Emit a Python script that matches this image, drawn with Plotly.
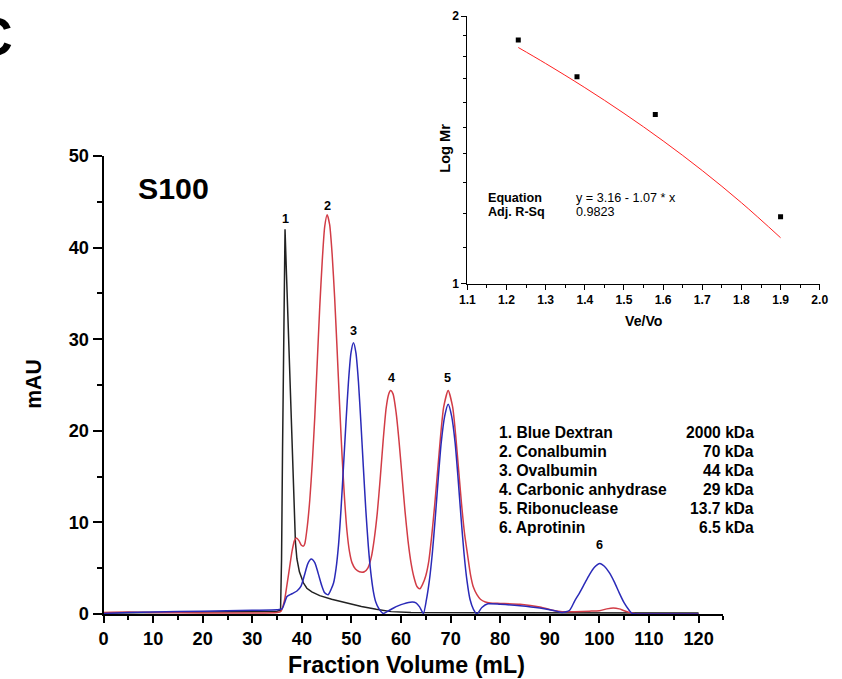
import plotly.graph_objects as go

# ---------------- data: elution profiles (Fraction Volume mL, mAU) ----------------
black_x = [0, 10, 20, 30, 35, 35.7, 35.9, 36.1, 36.3, 36.5, 36.6, 36.9, 37.3, 37.7, 38.1, 38.4,
           38.7, 39.0, 39.5, 40.3, 41.0, 42.0, 43.6, 46.0, 49.6, 52.0, 55.0, 58.0, 62.0, 70, 80,
           90, 100, 110, 120]
black_y = [0.1, 0.15, 0.2, 0.25, 0.3, 0.4, 6, 18, 30, 40, 42, 37, 30.5, 23.5, 16, 11,
           7.8, 6.0, 4.6, 3.4, 2.8, 2.4, 2.0, 1.6, 1.1, 0.8, 0.5, 0.25, 0.15, 0.15, 0.1,
           0.1, 0.1, 0.1, 0.1]

red_x = [0, 5, 10, 20, 30, 35, 35.8, 36.5, 37.0, 37.5, 38.0, 38.5, 38.9, 39.4, 39.9, 40.3,
         40.6, 41.1, 41.6, 42.1, 42.6, 43.1, 43.6, 44.1, 44.6, 45.1, 45.6, 46.1, 46.6, 47.1,
         47.6, 48.1, 48.6, 49.1, 49.6, 50.1, 50.8, 51.6, 52.6, 53.3, 54.0, 54.6, 55.2, 55.8,
         56.4, 57.0, 57.5, 57.9, 58.4, 59.0, 59.6, 60.2, 60.8, 61.4, 62.0, 62.6, 63.2, 63.8,
         64.4, 65.0, 65.6, 66.2, 66.8, 67.4, 68.0, 68.6, 69.5, 70.4, 71.0, 71.6, 72.2, 72.8,
         73.4, 74.0, 74.6, 75.3, 76.0, 77.0, 78.0, 80.0, 84.0, 88.0, 91.0, 92.5, 95.0, 98.0,
         100.0, 101.5, 102.8, 104.0, 105.0, 106.5, 107.5, 110, 120]
red_y = [0.15, 0.2, 0.15, 0.1, 0.1, 0.15, 0.3, 1.5, 3.2, 5.0, 6.8, 8.0, 8.3, 8.0, 7.5, 7.4,
         7.7, 9.6, 12.5, 16.5, 21.5, 27.5, 33.5, 38.5, 42.3, 43.6, 42.5, 39.3, 34.6, 28.9,
         22.9, 17.3, 12.6, 9.0, 6.8, 5.6, 4.9, 4.6, 4.6, 5.0, 6.2, 8.2, 11.0, 14.8,
         19.0, 22.5, 24.0, 24.4, 24.0, 22.0, 18.8, 15.0, 11.2, 8.0, 5.6, 4.0, 3.0, 2.75,
         3.3, 4.2, 5.8, 8.6, 12.0, 15.8, 19.6, 22.6, 24.4, 22.6, 19.6, 15.8, 12.0, 8.8,
         6.5, 4.3, 2.9, 2.1, 1.6, 1.3, 1.2, 1.15, 1.05, 0.75, 0.35, 0.25, 0.25, 0.3,
         0.35, 0.55, 0.65, 0.55, 0.35, 0.1, 0.0, 0.0, 0.0]

blue_x = [0, 5, 10, 20, 30, 35, 36.0, 36.5, 37.0, 38.0, 39.0, 39.8, 40.5, 41.2, 41.9, 42.6,
          43.3, 44.0, 44.6, 45.3, 45.9, 46.4, 46.9, 47.4, 47.9, 48.4, 48.9, 49.4, 49.9, 50.4,
          50.9, 51.4, 51.9, 52.4, 52.9, 53.4, 53.9, 54.4, 54.9, 55.5, 56.4, 57.5, 58.5, 59.5,
          60.5, 61.5, 62.3, 63.0, 63.7, 64.5, 65.1, 65.7, 66.3, 66.9, 67.5, 68.1, 68.8, 69.5,
          70.2, 70.9, 71.5, 72.1, 72.7, 73.3, 73.9, 74.6, 75.3, 76.3, 77.5, 80, 84, 88, 91,
          92.5, 94, 95, 96, 97, 98, 99, 100.1, 101, 102, 103, 104, 105, 106, 106.6, 108, 120]
blue_y = [0.05, 0.15, 0.2, 0.3, 0.4, 0.45, 0.55, 1.2, 1.9, 2.2, 2.5, 3.0, 4.2, 5.5, 6.0, 5.6,
          4.4, 3.1, 2.3, 2.1, 2.7, 3.4, 5.0, 7.6, 11.5, 16.2, 21.0, 25.4, 28.5, 29.6,
          28.5, 25.4, 20.9, 16.0, 11.3, 7.4, 4.5, 2.5, 1.3, 0.6, 0.05, 0.35, 0.65, 0.9,
          1.1, 1.25, 1.3, 1.2, 0.8, 0.05, 1.5, 3.6, 6.6, 10.5, 14.8, 18.7, 21.6, 22.9,
          21.6, 18.7, 14.8, 10.5, 6.6, 3.6, 1.6, 0.5, 0.0, 0.7, 1.1, 1.05, 0.9, 0.65, 0.35,
          0.15, 0.4, 1.4, 2.3, 3.3, 4.3, 5.1, 5.5, 5.2, 4.5, 3.5, 2.3, 1.2, 0.4, 0.05, 0.0, 0.0]

# ---------------- data: calibration inset ----------------
cal_vevo = [1.23, 1.38, 1.58, 1.90]
cal_logmr = [1.88, 1.71, 1.55, 1.19]
fit_vevo = [1.23, 1.30, 1.40, 1.50, 1.60, 1.70, 1.80, 1.90]
fit_logmr = [1.844, 1.769, 1.662, 1.555, 1.448, 1.341, 1.234, 1.127]

peak_labels = ["1", "2", "3", "4", "5", "6"]
peak_label_x = [36.6, 45.1, 50.4, 58.0, 69.4, 100.1]
peak_label_y = [43.1, 44.5, 30.9, 25.8, 25.8, 7.5]

legend_names = ["1. Blue Dextran", "2. Conalbumin", "3. Ovalbumin",
                "4. Carbonic anhydrase", "5. Ribonuclease", "6. Aprotinin"]
legend_mw = ["2000 kDa", "70 kDa", "44 kDa", "29 kDa", "13.7 kDa", "6.5 kDa"]

main_xticks = [0, 10, 20, 30, 40, 50, 60, 70, 80, 90, 100, 110, 120]
inset_xticks = [1.1, 1.2, 1.3, 1.4, 1.5, 1.6, 1.7, 1.8, 1.9, 2.0]
inset_xticktext = ["1.1", "1.2", "1.3", "1.4", "1.5", "1.6", "1.7", "1.8", "1.9", "2.0"]

# ---------------- layout geometry ----------------
W, H = 842, 679
ML, MR, MT, MB = 101, 0, 0, 60
PW, PH = W - ML - MR, H - MT - MB
# correction for the capture's observed scale/offset
SX, OX = 0.9945, 0.0
SY, OY = 0.983, 9.6
FS = 1.0 / 0.99


def clamp(v):
    return max(0.0, min(1.0, v))


def px(xp):
    return ((xp - OX) / SX - ML) / PW


def py(yp):
    return (H - MB - (yp - OY) / SY) / PH


def f(size):
    return size * FS


FONT = "Liberation Sans, Arial, sans-serif"
RED = "#d23c46"
BLUE = "#2a2ab8"
BLACK = "#222222"

fig = go.Figure()
fig.add_trace(go.Scatter(x=black_x, y=black_y, mode="lines", line=dict(color=BLACK, width=1.5),
                         xaxis="x", yaxis="y", showlegend=False))
fig.add_trace(go.Scatter(x=red_x, y=red_y, mode="lines", line=dict(color=RED, width=1.5, shape="spline", smoothing=0.6),
                         xaxis="x", yaxis="y", showlegend=False))
fig.add_trace(go.Scatter(x=blue_x, y=blue_y, mode="lines", line=dict(color=BLUE, width=1.5, shape="spline", smoothing=0.6),
                         xaxis="x", yaxis="y", showlegend=False))

fig.add_trace(go.Scatter(x=fit_vevo, y=fit_logmr, mode="lines", line=dict(color="#ff2020", width=1, shape="spline"),
                         xaxis="x2", yaxis="y2", showlegend=False))
fig.add_trace(go.Scatter(x=cal_vevo, y=cal_logmr, mode="markers",
                         marker=dict(symbol="square", size=5, color="black"),
                         xaxis="x2", yaxis="y2", showlegend=False))

tickfont_main = dict(family=FONT, size=f(18), color="black", weight="bold")
tickfont_inset = dict(family=FONT, size=f(12), color="black", weight="bold")

fig.update_layout(
    width=W, height=H, autosize=False,
    margin=dict(l=ML, r=MR, t=MT, b=MB),
    paper_bgcolor="white", plot_bgcolor="white",
    font=dict(family=FONT, color="black"),
    xaxis=dict(domain=[clamp(px(103)), clamp(px(727))], range=[0, 125], showgrid=False, zeroline=False,
               showline=True, linecolor="black", linewidth=2,
               ticks="outside", ticklen=7, tickwidth=2, tickcolor="black",
               tickvals=main_xticks, tickfont=tickfont_main,
               minor=dict(tickvals=[5, 15, 25, 35, 45, 55, 65, 75, 85, 95, 105, 115, 125],
                          ticks="outside", ticklen=4, tickwidth=1.5, tickcolor="black"),
               anchor="y"),
    yaxis=dict(domain=[clamp(py(613)), clamp(py(155.5))], range=[0, 50], showgrid=False, zeroline=False,
               showline=True, linecolor="black", linewidth=2,
               ticks="outside", ticklen=9, tickwidth=2, tickcolor="black",
               tickvals=[0, 10, 20, 30, 40, 50], tickfont=tickfont_main,
               minor=dict(tickvals=[5, 15, 25, 35, 45], ticks="outside", ticklen=5,
                          tickwidth=1.5, tickcolor="black"),
               anchor="x"),
    xaxis2=dict(domain=[clamp(px(469.3)), clamp(px(824))], range=[1.1, 2.0], showgrid=False, zeroline=False,
                showline=True, linecolor="black", linewidth=1,
                ticks="outside", ticklen=5, tickwidth=1, tickcolor="black",
                tickvals=inset_xticks, ticktext=inset_xticktext, tickfont=tickfont_inset,
                minor=dict(tickvals=[1.15, 1.25, 1.35, 1.45, 1.55, 1.65, 1.75, 1.85, 1.95],
                           ticks="outside", ticklen=3, tickwidth=1, tickcolor="black"),
                anchor="y2"),
    yaxis2=dict(domain=[clamp(py(283.3)), clamp(py(15.7))], type="log", range=[0, 0.30103], showgrid=False,
                zeroline=False, showline=True, linecolor="black", linewidth=1,
                ticks="outside", ticklen=5, tickwidth=1, tickcolor="black",
                tickvals=[1, 2], ticktext=["1", "2"], tickfont=tickfont_inset,
                minor=dict(tickvals=[1.1, 1.2, 1.3, 1.4, 1.5, 1.6, 1.7, 1.8, 1.9],
                           ticks="outside", ticklen=3, tickwidth=1, tickcolor="black"),
                anchor="x2"),
)


def note(text, xp, yp, size, xanchor="center", angle=0):
    return dict(text=text, xref="paper", yref="paper", x=px(xp), y=py(yp),
                xanchor=xanchor, yanchor="middle", showarrow=False, textangle=angle,
                font=dict(family=FONT, size=f(size), color="black"))


ann = []
ann.append(note("<b>C</b>", -8, 36, 53))
ann.append(note("<b>S100</b>", 173.5, 187.5, 30))
ann.append(note("<b>mAU</b>", 33, 384, 21, angle=-90))
ann.append(note("<b>Fraction Volume (mL)</b>", 408, 664, 23))
ann.append(note("<b>Log Mr</b>", 446, 148, 14.5, angle=-90))
ann.append(note("<b>Ve/Vo</b>", 647, 320, 14))
ann.append(note("<b>Equation</b>", 488, 197.7, 12.5, xanchor="left"))
ann.append(note("<b>Adj. R-Sq</b>", 488, 211.7, 12.5, xanchor="left"))
ann.append(note("y = 3.16 - 1.07 * x", 576.7, 197.7, 12.5, xanchor="left"))
ann.append(note("0.9823", 576.7, 211.7, 12.5, xanchor="left"))
for t, xv, yv in zip(peak_labels, peak_label_x, peak_label_y):
    ann.append(dict(text="<b>%s</b>" % t, xref="x", yref="y", x=xv, y=yv,
                    xanchor="center", yanchor="middle", showarrow=False,
                    font=dict(family=FONT, size=f(12.5), color="black")))
for i, (nm, mw) in enumerate(zip(legend_names, legend_mw)):
    ann.append(note("<b>%s</b>" % nm, 499, 432 + 19 * i, 15.5, xanchor="left"))
    ann.append(note("<b>%s</b>" % mw, 760, 432 + 19 * i, 15.5, xanchor="right"))
fig.update_layout(annotations=ann)

fig.write_html("out.html", config={"displayModeBar": False, "responsive": False},
               post_script="document.body.style.margin='0';document.body.style.overflow='hidden';")
